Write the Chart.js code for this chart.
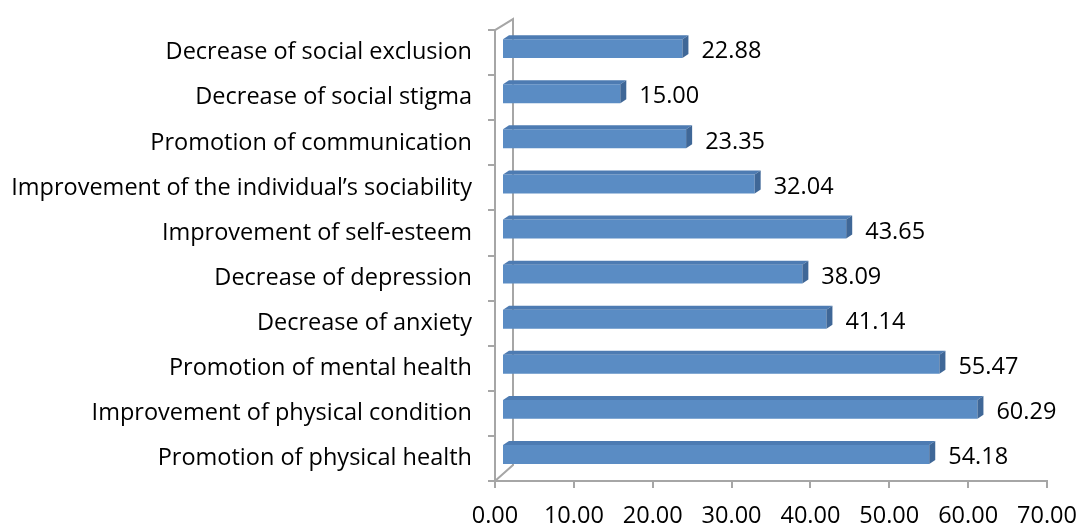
<!DOCTYPE html>
<html>
<head>
<meta charset="utf-8">
<script src="https://cdn.jsdelivr.net/npm/chart.js@4"></script>
<style>
  html, body { margin: 0; padding: 0; background: #fff; }
  #wrap { width: 1080px; height: 528px; }
</style>
</head>
<body>
<div id="wrap"><canvas id="barChart"></canvas></div>
<script>
// categories, top to bottom as in the picture
const benefits = [
    'Decrease of social exclusion',
    'Decrease of social stigma',
    'Promotion of communication',
    'Improvement of the individual\u2019s sociability',
    'Improvement of self-esteem',
    'Decrease of depression',
    'Decrease of anxiety',
    'Promotion of mental health',
    'Improvement of physical condition',
    'Promotion of physical health',
];

const percentages = [22.88, 15.00, 23.35, 32.04, 43.65, 38.09, 41.14, 55.47, 60.29, 54.18];

const xTicks = [0, 10, 20, 30, 40, 50, 60, 70];

const FONT = '"Open Sans"';
const FONT_SIZE = 23.5;
const AXIS_GREY = '#a6a6a6';

let barFront = '#5a8cc4';
let barTop = '#4d7bb2';
let barSide = '#3f6797';

// depth of the fake 3d look
const shiftX = 7, shiftY = -4;
const depthX = 6, depthY = 4;

let pseudo3d = {
    id: 'pseudo3d',
    beforeDatasetsDraw: (chart) => {
        const ctx = chart.ctx;
        const area = chart.chartArea;
        // back wall outline
        ctx.save();
        ctx.strokeStyle = AXIS_GREY;
        ctx.lineWidth = 2;
        ctx.beginPath();
        ctx.moveTo(area.left, area.top);
        ctx.lineTo(area.left + 18, area.top - 11);
        ctx.lineTo(area.left + 18, area.bottom - 16);
        ctx.lineTo(area.left, area.bottom);
        ctx.stroke();
        ctx.restore();

        ctx.save();
        ctx.translate(shiftX, shiftY);
    },
    afterDatasetsDraw: (chart) => {
        const ctx = chart.ctx;
        const meta = chart.getDatasetMeta(0);
        meta.data.forEach((bar, i) => {
            const p = bar.getProps(['x', 'y', 'base', 'height'], true);
            const top = p.y - p.height / 2;
            const bottom = p.y + p.height / 2;
            // top face
            ctx.fillStyle = barTop;
            ctx.beginPath();
            ctx.moveTo(p.base, top);
            ctx.lineTo(p.base + depthX, top - depthY);
            ctx.lineTo(p.x + depthX, top - depthY);
            ctx.lineTo(p.x, top);
            ctx.closePath();
            ctx.fill();
            // side face
            ctx.fillStyle = barSide;
            ctx.beginPath();
            ctx.moveTo(p.x, top);
            ctx.lineTo(p.x + depthX, top - depthY);
            ctx.lineTo(p.x + depthX, bottom - depthY);
            ctx.lineTo(p.x, bottom);
            ctx.closePath();
            ctx.fill();
            // value label
            ctx.fillStyle = '#000';
            ctx.font = `${FONT_SIZE}px ${FONT}`;
            ctx.textAlign = 'left';
            ctx.textBaseline = 'middle';
            ctx.fillText(percentages[i].toFixed(2), p.x + depthX + 13, p.y + 3);
        });
        ctx.restore();
    }
};

let barChart = new Chart(document.getElementById('barChart').getContext('2d'), {
    type: 'bar',
    data: {
        labels: benefits,
        datasets: [{
            data: percentages,
            backgroundColor: barFront,
            borderWidth: 0,
            categoryPercentage: 1,
            barPercentage: 0.42,
        }]
    },
    options: {
        indexAxis: 'y',
        animation: false,
        responsive: true,
        maintainAspectRatio: false,
        layout: {
            padding: { top: 24, right: 33, left: 0, bottom: 0 }
        },
        plugins: {
            legend: { display: false },
            tooltip: { enabled: false },
        },
        scales: {
            x: {
                min: 0,
                max: 70,
                afterBuildTicks: (scale) => {
                    scale.ticks = xTicks.map((v) => ({ value: v }));
                },
                afterFit: (scale) => {
                    scale.height = 47;
                    scale.paddingLeft = 0;
                    scale.paddingRight = 0;
                },
                grid: {
                    drawOnChartArea: false,
                    drawTicks: true,
                    tickLength: 7,
                    color: AXIS_GREY,
                    lineWidth: 2,
                },
                border: { color: AXIS_GREY, width: 2 },
                ticks: {
                    color: '#000',
                    font: { family: FONT, size: FONT_SIZE },
                    padding: 14,
                    maxRotation: 0,
                    callback: (v) => Number(v).toFixed(2),
                }
            },
            y: {
                afterFit: (scale) => { scale.width = 495; },
                grid: {
                    drawOnChartArea: false,
                    drawTicks: true,
                    tickLength: 7,
                    color: AXIS_GREY,
                    lineWidth: 2,
                },
                border: { color: AXIS_GREY, width: 2 },
                ticks: {
                    color: '#000',
                    font: { family: FONT, size: FONT_SIZE },
                    padding: 16,
                }
            }
        }
    },
    plugins: [pseudo3d]
});
</script>
</body>
</html>
